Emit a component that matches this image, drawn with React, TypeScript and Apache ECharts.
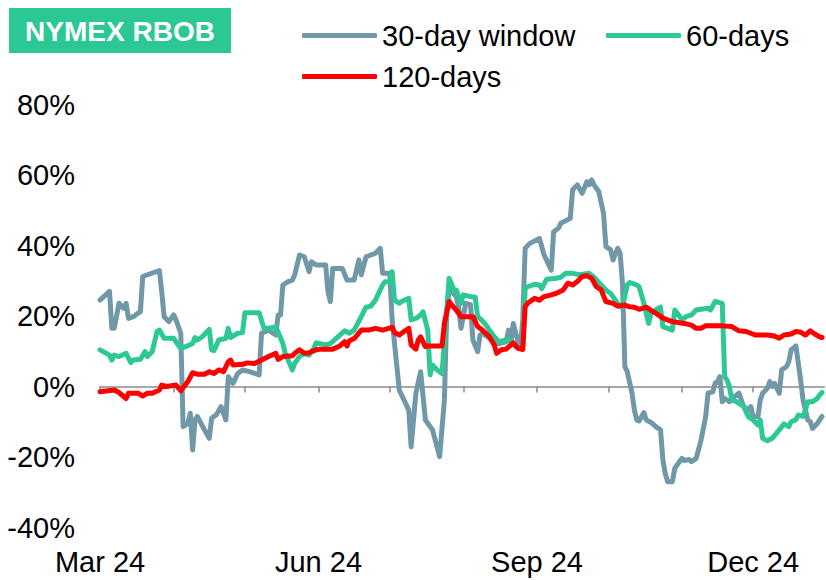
import React, { useEffect, useRef } from "react";
import * as echarts from "echarts";

// Calendar days on the x axis (Mar 1 – Dec 31, 2024)
const MONTHS = ["03", "04", "05", "06", "07", "08", "09", "10", "11", "12"];
const MONTH_DAYS = [31, 30, 31, 30, 31, 31, 30, 31, 30, 31];
const QUARTER_LABELS: [string, string][] = [
  ["03-01", "Mar 24"],
  ["06-01", "Jun 24"],
  ["09-01", "Sep 24"],
  ["12-01", "Dec 24"],
];
const Y_TICKS = { min: -40, max: 80, interval: 20 };

const SERIES_NAMES = ["30-day window", "60-days", "120-days"];

const GREY30: [string, number][] = [
  ["03-01", 24.5], ["03-05", 27], ["03-06", 16.5], ["03-07", 16.5], ["03-09", 23.6], ["03-11", 22.2],
  ["03-12", 23.6], ["03-13", 19.3], ["03-15", 19.8], ["03-17", 20.8], ["03-18", 21.2], ["03-19", 31.2],
  ["03-21", 31.7], ["03-26", 32.9], ["03-27", 26.9], ["03-28", 19.8], ["03-30", 18.4], ["04-01", 20.3],
  ["04-02", 18.9], ["04-04", 15.1], ["04-05", -11.4], ["04-07", -10.5], ["04-08", -7.6], ["04-09", -18],
  ["04-10", -9.5], ["04-11", -8.5], ["04-14", -12.3], ["04-16", -14.7], ["04-17", -9], ["04-19", -8],
  ["04-21", -5.7], ["04-23", -9.5], ["04-24", 2.8], ["04-26", 0.9], ["04-28", 3.7], ["04-30", 4.7],
  ["05-03", 4.2], ["05-07", 3.3], ["05-08", 15.1], ["05-11", 16], ["05-14", 14.6], ["05-15", 20.3],
  ["05-16", 20.3], ["05-17", 28.8], ["05-19", 29.7], ["05-21", 30.2], ["05-22", 31.7], ["05-24", 37.3],
  ["05-26", 36.8], ["05-28", 32.6], ["05-29", 35.4], ["05-31", 34.5], ["06-04", 34.5], ["06-05", 26.9],
  ["06-06", 24.1], ["06-07", 33.5], ["06-11", 33.5], ["06-13", 30.2], ["06-16", 30.2], ["06-18", 35.9],
  ["06-19", 31.7], ["06-21", 36.8], ["06-25", 37.8], ["06-27", 39.2], ["06-28", 32.1], ["07-01", 32.1],
  ["07-02", 18.9], ["07-05", -1], ["07-09", -6.7], ["07-10", -17.1], ["07-12", -1.9], ["07-14", 4.2],
  ["07-16", -9.5], ["07-19", -12.3], ["07-22", -19.9], ["07-24", -3.8], ["07-25", 20.8], ["07-26", 27.8],
  ["07-29", 25.5], ["07-30", 22.6], ["07-31", 16.5], ["08-02", 23.6], ["08-04", 23.2], ["08-05", 13.2],
  ["08-07", 9.9], ["08-08", 14.6], ["08-09", 15.1], ["08-12", 13.7], ["08-14", 12.2], ["08-16", 12.2],
  ["08-19", 12.7], ["08-20", 16], ["08-21", 12.7], ["08-22", 17.9], ["08-24", 12.7], ["08-25", 11.3],
  ["08-26", 18.9], ["08-27", 39.2], ["08-29", 40.6], ["09-02", 42], ["09-04", 37.3], ["09-07", 33],
  ["09-08", 43.9], ["09-10", 44.9], ["09-11", 46.3], ["09-15", 47.7], ["09-16", 55.8], ["09-18", 57.2],
  ["09-20", 54.8], ["09-22", 58.1], ["09-23", 57.2], ["09-24", 58.6], ["09-25", 57.2], ["09-27", 55.3],
  ["09-29", 49.1], ["09-30", 39.7], ["10-02", 38.8], ["10-03", 35.9], ["10-05", 39.2], ["10-06", 37.8],
  ["10-07", 29], ["10-08", 5.6], ["10-09", 4.2], ["10-11", -1.9], ["10-12", -6.7], ["10-13", -9.5],
  ["10-14", -9.8], ["10-16", -7.4], ["10-17", -9.5], ["10-19", -10.2], ["10-21", -11.4], ["10-23", -12.3],
  ["10-24", -20.9], ["10-25", -24.7], ["10-26", -27], ["10-28", -27], ["10-29", -23.2], ["10-31", -21.3],
  ["11-01", -20.4], ["11-02", -21], ["11-04", -20.7], ["11-05", -21.3], ["11-07", -20.4], ["11-09", -15.4],
  ["11-11", -8.6], ["11-12", -1.9], ["11-14", -1.5], ["11-15", 0.9], ["11-16", 1.4], ["11-17", 2.8],
  ["11-18", -4.3], ["11-19", -3.4], ["11-21", -4.3], ["11-23", -2.9], ["11-25", -1.9], ["11-27", -5.7],
  ["11-29", -6.6], ["11-30", -5.7], ["12-01", -8.6], ["12-03", -8.6], ["12-04", -3.8], ["12-05", -1.9],
  ["12-07", -0.5], ["12-08", 1.4], ["12-09", 0], ["12-10", 0.9], ["12-12", -1.9], ["12-13", 4.7],
  ["12-15", 5.6], ["12-16", 7.0], ["12-17", 10.4], ["12-18", 10.9], ["12-19", 11.5], ["12-21", 1.8],
  ["12-22", -3.8], ["12-24", -9.5], ["12-25", -9.9], ["12-26", -11.9], ["12-28", -10.5], ["12-30", -8.5],
];

const GREEN60: [string, number][] = [
  ["03-01", 10.4], ["03-05", 8.9], ["03-06", 7.5], ["03-07", 8.9], ["03-09", 8.5], ["03-12", 9.4],
  ["03-14", 6.8], ["03-15", 7.5], ["03-18", 7.7], ["03-20", 9.9], ["03-21", 8.5], ["03-23", 9.9],
  ["03-25", 15.6], ["03-26", 16], ["03-28", 13.7], ["04-01", 13.7], ["04-02", 12.7], ["04-04", 10.8],
  ["04-06", 11.3], ["04-09", 12.2], ["04-10", 13.9], ["04-11", 13.2], ["04-13", 14.1], ["04-16", 16.2],
  ["04-17", 10.4], ["04-18", 10.2], ["04-20", 13.2], ["04-23", 13.7], ["04-24", 16.5], ["04-25", 13.9],
  ["04-28", 15.1], ["04-30", 15.3], ["05-01", 20.9], ["05-07", 20.9], ["05-09", 16.5], ["05-11", 16.5],
  ["05-14", 17], ["05-17", 12.2], ["05-18", 9.4], ["05-21", 4.7], ["05-22", 6.6], ["05-24", 8.5],
  ["05-26", 9.4], ["05-28", 8.9], ["05-30", 10.8], ["05-31", 12.4], ["06-04", 11.8], ["06-06", 12.2],
  ["06-08", 13.4], ["06-10", 14.6], ["06-12", 15.8], ["06-14", 15.1], ["06-16", 16], ["06-19", 19.8],
  ["06-21", 22.5], ["06-23", 22.8], ["06-25", 24.5], ["06-26", 26], ["06-28", 28.8], ["06-29", 29.7],
  ["07-01", 29.7], ["07-02", 32.6], ["07-03", 24.5], ["07-05", 23.6], ["07-06", 24.1], ["07-09", 25],
  ["07-10", 18.9], ["07-12", 19.3], ["07-14", 20.3], ["07-15", 21.2], ["07-17", 16], ["07-18", 3.3],
  ["07-19", 6.1], ["07-21", 4.7], ["07-23", 3.7], ["07-25", 21.7], ["07-26", 30.7], ["07-28", 27.4],
  ["07-29", 27.4], ["07-31", 23.6], ["08-01", 26], ["08-04", 25.5], ["08-06", 25.3], ["08-07", 19.8],
  ["08-08", 19.3], ["08-10", 17.9], ["08-12", 16], ["08-14", 14.1], ["08-16", 12.7], ["08-19", 13.2],
  ["08-21", 13.2], ["08-23", 11.3], ["08-26", 10.8], ["08-27", 27.8], ["08-28", 28.3], ["08-31", 29],
  ["09-02", 28.8], ["09-03", 27.8], ["09-05", 30.4], ["09-09", 30.7], ["09-11", 31], ["09-13", 32.1],
  ["09-16", 32.1], ["09-19", 31.7], ["09-23", 32.1], ["09-25", 31], ["09-28", 28.8], ["09-30", 27.4],
  ["10-02", 26.4], ["10-04", 24.5], ["10-06", 22.6], ["10-07", 22.6], ["10-09", 28.8], ["10-10", 29.5],
  ["10-13", 28.8], ["10-14", 28.3], ["10-16", 23.6], ["10-18", 17.9], ["10-19", 20.8], ["10-21", 21.7],
  ["10-23", 22.5], ["10-24", 17], ["10-26", 16.5], ["10-28", 16], ["10-29", 21.7], ["10-31", 19.9],
  ["11-01", 18.9], ["11-03", 19.9], ["11-05", 20.3], ["11-07", 21.7], ["11-09", 21.9], ["11-12", 22.2],
  ["11-13", 21.7], ["11-15", 24.1], ["11-18", 23.6], ["11-19", 2.8], ["11-20", 1.8], ["11-21", 0],
  ["11-22", -3.8], ["11-24", -4.3], ["11-26", -5.2], ["11-27", -5.7], ["11-29", -8.6], ["12-01", -9.5],
  ["12-03", -10.9], ["12-04", -9.5], ["12-05", -14.7], ["12-07", -15.4], ["12-09", -14.7], ["12-12", -12.3],
  ["12-14", -10.6], ["12-16", -11.4], ["12-17", -10], ["12-19", -9.4], ["12-20", -8.1], ["12-22", -8.5],
  ["12-23", -6.6], ["12-24", -4.3], ["12-26", -4.3], ["12-28", -3.4], ["12-29", -2.4], ["12-30", -1.7],
];

const RED120: [string, number][] = [
  ["03-01", -1.5], ["03-07", -1], ["03-09", -1.7], ["03-12", -3.4], ["03-13", -1.9], ["03-17", -1.9],
  ["03-19", -2.7], ["03-21", -1.9], ["03-23", -1.9], ["03-26", -1], ["03-27", 0.4], ["03-29", 0],
  ["04-02", 0.4], ["04-04", -1.2], ["04-07", 1.4], ["04-09", 3.9], ["04-11", 3.5], ["04-14", 3.5],
  ["04-16", 4.2], ["04-18", 3.7], ["04-20", 4.7], ["04-22", 4.2], ["04-24", 7.0], ["04-25", 7.5],
  ["04-26", 6.1], ["04-30", 6.3], ["05-02", 6.7], ["05-05", 6.5], ["05-08", 7.5], ["05-11", 8.5],
  ["05-14", 9.4], ["05-15", 7.7], ["05-17", 8.5], ["05-21", 8.7], ["05-22", 9.4], ["05-24", 10.4],
  ["05-26", 9.4], ["05-28", 9.6], ["05-31", 10.4], ["06-02", 10.6], ["06-07", 10.6], ["06-10", 11.5],
  ["06-12", 12.7], ["06-13", 11.5], ["06-14", 13], ["06-16", 13.6], ["06-19", 16], ["06-22", 16],
  ["06-25", 16.5], ["06-28", 16], ["07-02", 16.8], ["07-03", 15.3], ["07-05", 14.6], ["07-07", 15.6],
  ["07-09", 16.5], ["07-10", 11.8], ["07-12", 10.6], ["07-13", 13.2], ["07-14", 14.1], ["07-16", 11.3],
  ["07-17", 11.5], ["07-23", 11.5], ["07-24", 17.9], ["07-26", 24.1], ["07-27", 23.2], ["07-29", 21.7],
  ["07-31", 19.8], ["08-05", 19.8], ["08-07", 17], ["08-09", 16], ["08-12", 14.1], ["08-14", 11.8],
  ["08-15", 9.4], ["08-17", 10.4], ["08-19", 10.6], ["08-21", 11.8], ["08-22", 12.4], ["08-24", 10.8],
  ["08-26", 10.5], ["08-27", 22.6], ["08-28", 23.6], ["08-31", 25], ["09-02", 24.5], ["09-04", 25.5],
  ["09-07", 26], ["09-09", 26.4], ["09-12", 27.4], ["09-14", 29.3], ["09-16", 28.8], ["09-18", 29.8],
  ["09-20", 31.2], ["09-22", 31.4], ["09-24", 30.7], ["09-26", 28.3], ["09-28", 27.4], ["09-30", 24.1],
  ["10-03", 23.6], ["10-05", 22.8], ["10-08", 23.1], ["10-10", 22.6], ["10-12", 22.5], ["10-14", 21.9],
  ["10-17", 22.5], ["10-19", 21.6], ["10-21", 20.8], ["10-24", 19.4], ["10-26", 18.9], ["10-28", 18.4],
  ["10-31", 18.1], ["11-02", 17.9], ["11-05", 17.4], ["11-07", 16.5], ["11-09", 16.5], ["11-11", 17.2],
  ["11-18", 17.2], ["11-22", 17], ["11-25", 15.8], ["11-28", 15.6], ["11-30", 15.1], ["12-02", 14.6],
  ["12-07", 14.6], ["12-10", 14.3], ["12-12", 13.7], ["12-14", 14.6], ["12-17", 14.9], ["12-19", 15.6],
  ["12-21", 15.4], ["12-23", 14.6], ["12-25", 15.8], ["12-27", 14.9], ["12-29", 14.1], ["12-30", 13.9],
];

const COLORS = ["#7098a8", "#2ec896", "#ff0000"];
const FONT = "'Liberation Sans', Arial, Helvetica, sans-serif";

function buildDays(): string[] {
  const out: string[] = [];
  MONTHS.forEach((m, i) => {
    for (let d = 1; d <= MONTH_DAYS[i]; d++) out.push(`${m}-${d < 10 ? "0" + d : d}`);
  });
  return out;
}

export default function App() {
  const ref = useRef<HTMLDivElement>(null);
  useEffect(() => {
    if (!ref.current) return;
    const chart = echarts.init(ref.current, undefined, { renderer: "svg" });
    const days = buildDays();
    const labelMap: Record<string, string> = {};
    QUARTER_LABELS.forEach(([k, v]) => (labelMap[k] = v));
    const seriesData = [GREY30, GREEN60, RED120];

    const legendBase = {
      icon: "roundRect",
      itemWidth: 75,
      itemHeight: 5,
      textStyle: { fontSize: 29, color: "#000", fontFamily: FONT },
      selectedMode: false,
    };

    chart.setOption({
      animation: false,
      backgroundColor: "#fff",
      grid: { left: 100, right: 1.6, top: 104.5, bottom: 52.5, containLabel: false },
      legend: [
        { ...legendBase, left: 297, top: 16, data: [SERIES_NAMES[0]] },
        { ...legendBase, left: 601, top: 16, data: [SERIES_NAMES[1]] },
        { ...legendBase, left: 297, top: 57, data: [SERIES_NAMES[2]] },
      ],
      graphic: [
        { type: "rect", shape: { x: 9, y: 8, width: 222, height: 45 }, style: { fill: "#2bc895" }, z: 10 },
        {
          type: "text",
          x: 120,
          y: 31,
          z: 11,
          style: {
            text: "NYMEX RBOB",
            fill: "#fff",
            font: `bold 28px ${FONT}`,
            textAlign: "center",
            textVerticalAlign: "middle",
          },
        },
      ],
      xAxis: [
        {
          type: "category",
          data: days,
          boundaryGap: false,
          position: "bottom",
          axisLine: { show: true, onZero: true, lineStyle: { color: "#8a8a8a", width: 1.5 } },
          axisTick: {
            show: true,
            length: 6,
            interval: (_i: number, v: string) => v.endsWith("-01"),
            lineStyle: { color: "#8a8a8a", width: 1.5 },
          },
          axisLabel: { show: false },
          splitLine: { show: false },
        },
        {
          type: "category",
          data: days,
          boundaryGap: false,
          position: "bottom",
          axisLine: { show: false, onZero: false },
          axisTick: { show: false },
          axisLabel: {
            show: true,
            interval: (_i: number, v: string) => v in labelMap,
            formatter: (v: string) => labelMap[v] || "",
            fontSize: 29,
            color: "#000",
            fontFamily: FONT,
            margin: 20,
          },
          splitLine: { show: false },
        },
      ],
      yAxis: {
        type: "value",
        min: Y_TICKS.min,
        max: Y_TICKS.max,
        interval: Y_TICKS.interval,
        axisLine: { show: false },
        axisTick: { show: false },
        splitLine: { show: false },
        axisLabel: {
          formatter: "{value}%",
          fontSize: 29,
          color: "#000",
          fontFamily: FONT,
          margin: 25,
        },
      },
      series: SERIES_NAMES.map((name, i) => ({
        name,
        type: "line",
        xAxisIndex: 0,
        data: seriesData[i],
        symbol: "none",
        smooth: false,
        lineStyle: { color: COLORS[i], width: 5, cap: "round", join: "round" },
        itemStyle: { color: COLORS[i] },
        z: 2 + i,
      })),
    });
    return () => chart.dispose();
  }, []);
  return (
    <div
      ref={ref}
      style={{ position: "absolute", left: 0, top: 0, width: 826, height: 580, background: "#fff" }}
    />
  );
}
